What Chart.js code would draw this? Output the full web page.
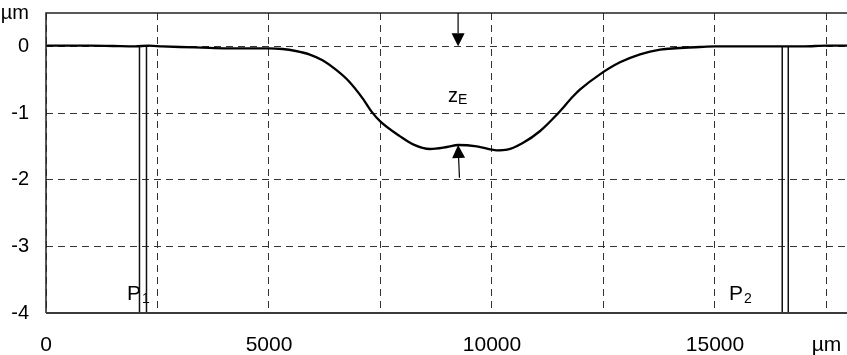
<!DOCTYPE html>
<html>
<head>
<meta charset="utf-8">
<script src="https://cdn.jsdelivr.net/npm/chart.js@4/dist/chart.umd.min.js"></script>
<style>
  html, body { margin: 0; padding: 0; background: #fff; overflow: hidden; }
  #wrap { width: 847px; height: 355px; }
</style>
</head>
<body>
<div id="wrap"><canvas id="c" width="847" height="355"></canvas></div>
<script>
// ---- data ----
const positions = [0, 500, 1000, 1500, 2000, 2300, 2600, 3000, 3500, 4000, 4500, 5000, 5300, 5600, 5900, 6200, 6500, 6800, 7100, 7300, 7500, 7940, 8230, 8610, 8990, 9240, 9660, 10110, 10340, 10690, 11080, 11460, 11820, 11970, 12420, 12870, 13320, 13770, 14660, 15000, 15500, 16000, 16500, 16700, 17000, 17500, 17960];
const depths = [0.01, 0.01, 0.01, 0.005, 0.0, 0.01, 0.0, -0.01, -0.02, -0.03, -0.03, -0.03, -0.04, -0.07, -0.12, -0.21, -0.35, -0.53, -0.78, -0.98, -1.13, -1.35, -1.47, -1.54, -1.51, -1.48, -1.50, -1.56, -1.55, -1.45, -1.27, -1.02, -0.75, -0.65, -0.42, -0.24, -0.12, -0.05, -0.01, 0.0, 0.0, 0.0, 0.0, 0.0, 0.0, 0.01, 0.01];
const p1Lines = [2096, 2253];
const p2Lines = [16508, 16643];
const xTickValues = [0, 2500, 5000, 7500, 10000, 12500, 15000, 17500];
const xTickLabels = ['0', '', '5000', '', '10000', '', '15000', 'µm'];
const yTickValues = [-4, -3, -2, -1, 0, 0.5];
const yTickLabels = ['-4', '-3', '-2', '-1', '0', 'µm'];
const zeArrowX = [9240, 9270];          // down arrow x, up arrow tail x
const zeArrowY = [0.5, 0, -1.48, -1.97]; // down: from, to ; up: tip, tail
const p1Label = { x: 1816, y: -3.8, text: 'P', sub: '1' };
const p2Label = { x: 15313, y: -3.8, text: 'P', sub: '2' };
const zeLabel = { x: 9013, y: -0.83, text: 'z', sub: 'E' };

const FONT = '"Liberation Sans", Arial, sans-serif';

function lineDataset(xv) {
  return {
    data: [{ x: xv, y: 0 }, { x: xv, y: -4 }],
    borderColor: '#111', borderWidth: 1.5, pointRadius: 0, fill: false
  };
}

const annot = {
  id: 'annot',
  beforeDatasetsDraw(chart) {
    const ctx = chart.ctx, xs = chart.scales.x, ys = chart.scales.y;
    ctx.save();
    ctx.fillStyle = '#000';
    ctx.textBaseline = 'alphabetic';
    [p1Label, p2Label].forEach(l => {
      const px = xs.getPixelForValue(l.x), py = ys.getPixelForValue(l.y);
      ctx.font = '21px ' + FONT;
      ctx.textAlign = 'left';
      ctx.fillText(l.text, px, py);
      const w = ctx.measureText(l.text).width;
      ctx.font = '14px ' + FONT;
      ctx.fillText(l.sub, px + w + 1, py + 3);
    });
    ctx.restore();
  },
  afterDatasetsDraw(chart) {
    const ctx = chart.ctx, xs = chart.scales.x, ys = chart.scales.y, a = chart.chartArea;
    ctx.save();
    // frame
    ctx.strokeStyle = '#222';
    ctx.lineWidth = 1.5;
    ctx.beginPath();
    ctx.moveTo(a.right, a.top); ctx.lineTo(a.left, a.top); ctx.lineTo(a.left, a.bottom);
    ctx.stroke();
    ctx.strokeStyle = '#3a3a3a';
    ctx.lineWidth = 2;
    ctx.beginPath();
    ctx.moveTo(a.left, a.bottom); ctx.lineTo(a.right, a.bottom);
    ctx.stroke();

    // arrows
    function arrow(x1, y1, x2, y2) {
      const ang = Math.atan2(y2 - y1, x2 - x1);
      const L = 13, H = 6.5;
      const bx = x2 - L * Math.cos(ang), by = y2 - L * Math.sin(ang);
      ctx.strokeStyle = '#000'; ctx.fillStyle = '#000'; ctx.lineWidth = 1.2;
      ctx.beginPath(); ctx.moveTo(x1, y1); ctx.lineTo(bx, by); ctx.stroke();
      ctx.beginPath();
      ctx.moveTo(x2, y2);
      ctx.lineTo(bx - H * Math.sin(ang), by + H * Math.cos(ang));
      ctx.lineTo(bx + H * Math.sin(ang), by - H * Math.cos(ang));
      ctx.closePath(); ctx.fill();
    }
    const dx = xs.getPixelForValue(zeArrowX[0]);
    arrow(dx, ys.getPixelForValue(zeArrowY[0]), dx, ys.getPixelForValue(zeArrowY[1]));
    arrow(xs.getPixelForValue(zeArrowX[1]), ys.getPixelForValue(zeArrowY[3]), dx, ys.getPixelForValue(zeArrowY[2]));

    // z_E label
    const zx = xs.getPixelForValue(zeLabel.x), zy = ys.getPixelForValue(zeLabel.y);
    ctx.fillStyle = '#000';
    ctx.textAlign = 'left';
    ctx.textBaseline = 'alphabetic';
    ctx.font = '20px ' + FONT;
    ctx.fillText(zeLabel.text, zx, zy);
    const w = ctx.measureText(zeLabel.text).width;
    ctx.font = '14px ' + FONT;
    ctx.fillText(zeLabel.sub, zx + w, zy + 2);
    ctx.restore();
  }
};

new Chart(document.getElementById('c'), {
  type: 'line',
  data: {
    datasets: [
      {
        data: positions.map((x, i) => ({ x: x, y: depths[i] })),
        borderColor: '#000', borderWidth: 2.3, pointRadius: 0, fill: false,
        cubicInterpolationMode: 'monotone'
      },
      ...p1Lines.map(lineDataset),
      ...p2Lines.map(lineDataset)
    ]
  },
  options: {
    responsive: false,
    devicePixelRatio: 1,
    animation: false,
    events: [],
    layout: { padding: { top: 13, right: 0, left: 0, bottom: 0 } },
    plugins: { legend: { display: false }, tooltip: { enabled: false } },
    scales: {
      x: {
        type: 'linear', min: 0, max: 17960,
        afterBuildTicks: ax => { ax.ticks = xTickValues.map(v => ({ value: v })); },
        afterFit: s => { s.height = 42; s.paddingLeft = 0; s.paddingRight = 0; s.paddingTop = 0; s.paddingBottom = 0; },
        ticks: {
          autoSkip: false, maxRotation: 0, padding: 20, color: '#000',
          font: { family: FONT, size: 21 },
          callback: (v, i) => xTickLabels[i]
        },
        grid: { color: '#333', lineWidth: 1, drawTicks: false },
        border: { display: false, dash: [7, 5] }
      },
      y: {
        type: 'linear', min: -4, max: 0.5,
        afterBuildTicks: ax => { ax.ticks = yTickValues.map(v => ({ value: v })); },
        afterFit: s => { s.width = 46; s.paddingLeft = 0; s.paddingRight = 0; s.paddingTop = 0; s.paddingBottom = 0; },
        ticks: {
          autoSkip: false, padding: 17, color: '#000',
          font: { family: FONT, size: 20 },
          callback: (v, i) => yTickLabels[i]
        },
        grid: {
          drawTicks: false, lineWidth: 1,
          color: c => (c.tick && c.tick.value === 0.5) ? 'rgba(0,0,0,0)' : '#333'
        },
        border: { display: false, dash: [7, 5] }
      }
    }
  },
  plugins: [annot]
});
</script>
</body>
</html>
